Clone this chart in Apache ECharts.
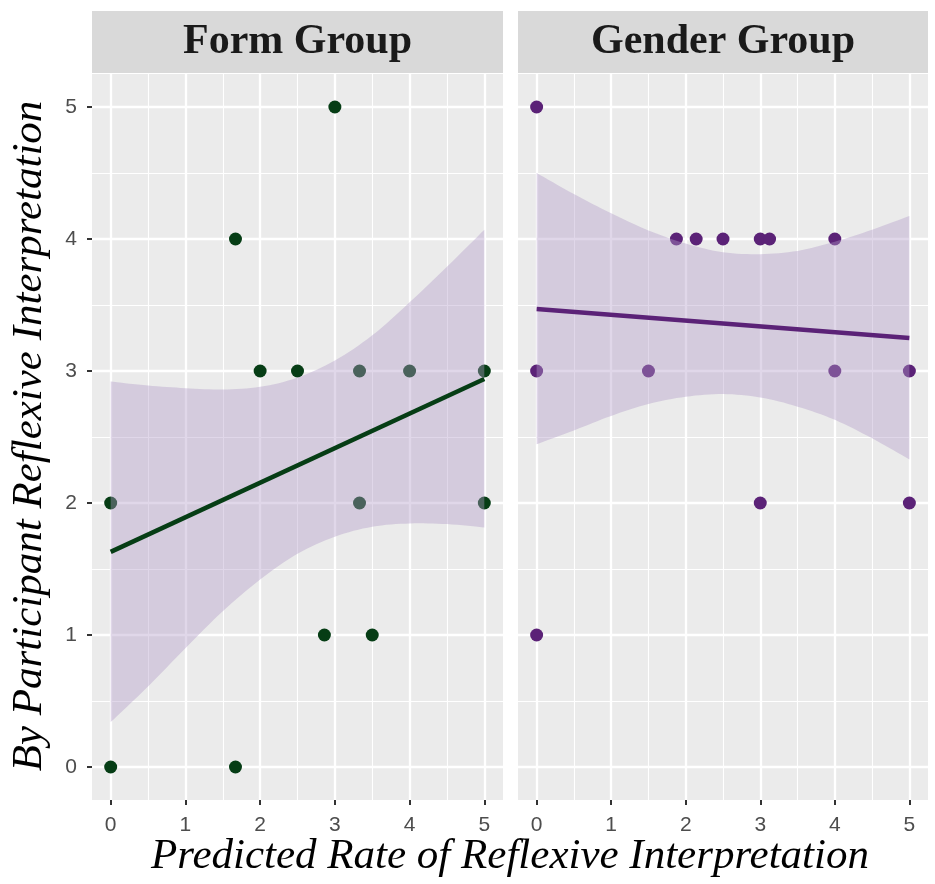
<!DOCTYPE html>
<html>
<head>
<meta charset="utf-8">
<script src="https://cdn.jsdelivr.net/npm/echarts@6/dist/echarts.min.js"></script>
<style>
  html, body { margin: 0; padding: 0; background: #fff; }
  #chartDom { width: 935px; height: 884px; }
</style>
</head>
<body>
<div id="chartDom"></div>
<script>
// facet strip titles
const facets = ['Form Group', 'Gender Group'];
const tickValues = [0, 1, 2, 3, 4, 5];
const minorValues = [0.5, 1.5, 2.5, 3.5, 4.5];

// Form Group: [predicted rate, participant rate]
const formPoints = [
  [3, 5], [1.67, 4],
  [2, 3], [2.5, 3], [3.33, 3], [4, 3], [5, 3],
  [0, 2], [3.33, 2], [5, 2],
  [2.86, 1], [3.5, 1],
  [0, 0], [1.67, 0]
];
// fitted line ends
const formLine = [[0, 1.63], [5, 2.94]];

// Gender Group
const genderPoints = [
  [0, 5],
  [1.875, 4], [2.14, 4], [2.5, 4], [3, 4], [3.125, 4], [4, 4],
  [0, 3], [1.5, 3], [4, 3], [5, 3],
  [3, 2], [5, 2],
  [0, 1]
];
const genderLine = [[0, 3.47], [5, 3.25]];

// confidence bands, read at these x positions
const bandX = [0, 0.5, 1, 1.5, 2, 2.5, 3, 3.5, 4, 4.5, 5];
const formUpper = [2.92, 2.89, 2.87, 2.86, 2.88, 2.95, 3.08, 3.27, 3.52, 3.79, 4.07];
const formLower = [0.34, 0.61, 0.90, 1.18, 1.42, 1.615, 1.745, 1.82, 1.845, 1.84, 1.815];
const genderUpper = [4.50, 4.34, 4.195, 4.065, 3.965, 3.90, 3.885, 3.91, 3.98, 4.07, 4.175];
const genderLower = [2.445, 2.55, 2.66, 2.75, 2.805, 2.825, 2.80, 2.73, 2.63, 2.49, 2.33];

const green = '#063d15';
const purple = '#5b2277';
const bandFill = 'rgba(178,155,200,0.4)';

let myChart = echarts.init(document.getElementById('chartDom'), null, { renderer: 'canvas' });

const panels = [
  { left: 92, width: 411 },
  { left: 518, width: 410 }
];
const panelTop = 74, panelHeight = 726;

function majorAxis(g, showLabel, isY) {
  return {
    gridIndex: g,
    type: 'value',
    min: -0.25,
    max: 5.25,
    axisLine: { show: true, onZero: false, lineStyle: { color: 'rgba(0,0,0,0)', width: 0 } },
    axisTick: {
      show: showLabel,
      inside: false,
      length: 5,
      customValues: tickValues,
      lineStyle: { color: '#333333', width: 2 }
    },
    axisLabel: {
      show: showLabel,
      customValues: tickValues,
      color: '#4d4d4d',
      fontSize: 21,
      fontFamily: 'Liberation Sans',
      margin: 15
    },
    splitLine: { show: true, lineStyle: { color: '#ffffff', width: 2.3 } }
  };
}
function minorAxis(g) {
  return {
    gridIndex: g,
    type: 'value',
    min: -0.25,
    max: 5.25,
    axisLine: { show: false, onZero: false },
    axisTick: { show: false, customValues: minorValues },
    axisLabel: { show: false, customValues: minorValues },
    splitLine: { show: true, lineStyle: { color: '#ffffff', width: 1.1 } }
  };
}

// smooth curve through pixel points (drawing only)
function spline(pts, out) {
  for (let i = 0; i < pts.length - 1; i++) {
    const p0 = pts[i - 1] || pts[i], p1 = pts[i], p2 = pts[i + 1], p3 = pts[i + 2] || pts[i + 1];
    for (let s = 0; s < 8; s++) {
      const t = s / 8, t2 = t * t, t3 = t2 * t;
      const f = (a, b, c, d) => 0.5 * (2 * b + (-a + c) * t + (2 * a - 5 * b + 4 * c - d) * t2 + (-a + 3 * b - 3 * c + d) * t3);
      out.push([f(p0[0], p1[0], p2[0], p3[0]), f(p0[1], p1[1], p2[1], p3[1])]);
    }
  }
  out.push(pts[pts.length - 1]);
}

// band drawn as one polygon: upper edge left->right, lower edge back
function bandSeries(ax, upper, lower) {
  return {
    type: 'custom',
    xAxisIndex: ax, yAxisIndex: ax,
    data: bandX.map((x, i) => [x, lower[i], upper[i]]),
    encode: { x: 0, y: [1, 2] },
    z: 3,
    silent: true,
    renderItem: function (params, api) {
      if (params.dataIndex !== 0) return null;
      const up = bandX.map((x, i) => api.coord([x, upper[i]]));
      const lo = bandX.map((x, i) => api.coord([x, lower[i]])).reverse();
      const pts = [];
      spline(up, pts);
      spline(lo, pts);
      return { type: 'polygon', shape: { points: pts }, style: { fill: bandFill } };
    }
  };
}

function panelSeries(ax, points, line, upper, lower, color) {
  return [
    {
      type: 'scatter',
      xAxisIndex: ax, yAxisIndex: ax,
      data: points,
      symbolSize: 13,
      itemStyle: { color: color, opacity: 1 },
      z: 2
    },
    bandSeries(ax, upper, lower),
    {
      type: 'line',
      xAxisIndex: ax, yAxisIndex: ax,
      data: line,
      symbol: 'none',
      lineStyle: { color: color, width: 4.5 },
      z: 4
    }
  ];
}

myChart.setOption({
  animation: false,
  backgroundColor: '#ffffff',
  grid: panels.map(p => ({
    left: p.left, width: p.width, top: panelTop, height: panelHeight,
    show: true, backgroundColor: '#ebebeb', borderWidth: 0
  })),
  xAxis: [majorAxis(0, true, false), minorAxis(0), majorAxis(1, true, false), minorAxis(1)],
  yAxis: [majorAxis(0, true, true), minorAxis(0), majorAxis(1, false, true), minorAxis(1)],
  series: [
    ...panelSeries(0, formPoints, formLine, formUpper, formLower, green),
    ...panelSeries(2, genderPoints, genderLine, genderUpper, genderLower, purple)
  ],
  graphic: [
    ...panels.map((p, i) => ({
      type: 'group',
      children: [
        { type: 'rect', shape: { x: p.left, y: 11, width: p.width, height: 62 }, style: { fill: '#d9d9d9' } },
        {
          type: 'text', x: p.left + p.width / 2, y: 42,
          style: {
            text: facets[i], align: 'center', verticalAlign: 'middle',
            font: 'bold 42px "Liberation Serif"', fill: '#1a1a1a'
          }
        }
      ]
    })),
    {
      type: 'text', x: 510, y: 857,
      style: {
        text: 'Predicted Rate of Reflexive Interpretation', align: 'center', verticalAlign: 'middle',
        font: 'italic 43px "Liberation Serif"', fill: '#000'
      }
    },
    {
      type: 'text', x: 30, y: 436, rotation: Math.PI / 2,
      style: {
        text: 'By Participant Reflexive Interpretation', align: 'center', verticalAlign: 'middle',
        font: 'italic 43px "Liberation Serif"', fill: '#000'
      }
    }
  ]
});
</script>
</body>
</html>
